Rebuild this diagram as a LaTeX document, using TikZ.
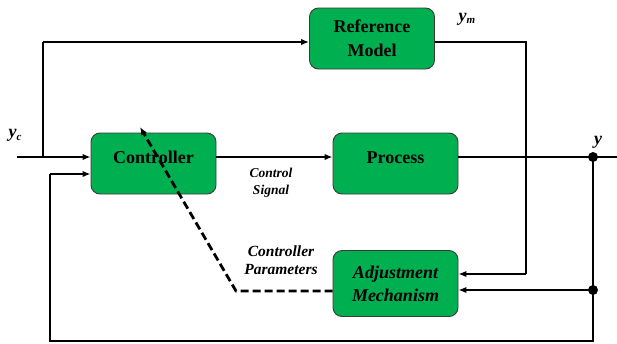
\documentclass[tikz,border=0pt]{standalone}
\usepackage{fontspec}
\setmainfont{Liberation Serif}
\usetikzlibrary{arrows.meta}
\definecolor{boxgreen}{HTML}{00B050}
\definecolor{boxline}{HTML}{3A3A3A}
\begin{document}
\begin{tikzpicture}[x=1pt,y=-1pt,
  blk/.style={draw=boxline, line width=0.9pt, fill=boxgreen, rounded corners=9pt,
    minimum width=125pt, minimum height=61pt, align=center, inner sep=0pt,
    font=\fontsize{18}{24}\selectfont\bfseries},
  raised/.style={text height=12pt, text depth=12pt},
  wire/.style={line width=2.6pt, draw=black},
  arr/.style={wire, -{Latex[length=8pt,width=6.5pt]}},
  dasharr/.style={arr, line width=2.8pt, dash pattern=on 8pt off 4pt},
  jdot/.style={circle, fill=black, inner sep=0pt, minimum size=10pt},
  sym/.style={inner sep=0pt, font=\fontsize{18}{20}\selectfont\bfseries\itshape},
  note/.style={inner sep=0pt, align=center, font=\fontsize{13.5}{17}\selectfont\bfseries\itshape},
  note2/.style={inner sep=0pt, align=center, font=\fontsize{15.5}{18}\selectfont\bfseries\itshape}
]
\useasboundingbox (0,0) rectangle (617,343);

% blocks
\node[blk] (ref) at (372,38.5) {Reference\\Model};
\node[blk, raised] (ctrl) at (153.5,163.5) {Controller};
\node[blk, raised] (proc) at (395.5,163.5) {Process};
\node[blk, minimum height=66pt, font=\fontsize{18}{23}\selectfont\bfseries\itshape] (adj) at (395.5,283.5) {Adjustment\\Mechanism};

% junctions and free ends
\coordinate (in) at (17,157);
\coordinate (br) at (43,157);
\coordinate (brtop) at (43,42);
\coordinate (out) at (617,157);
\node[jdot] (ydot) at (593,157) {};
\node[jdot] (adot) at (593,290) {};
\coordinate (fbcorner) at (593,341);
\coordinate (fbleft) at (50,341);
\coordinate (fbup) at (50,174);
\coordinate (ymcorner) at (526,42);
\coordinate (ymdown) at (526,274);
\coordinate (dbend) at (236,291);
\coordinate (dtip) at (140,127);

% connectors
\draw[arr] (in) -- (ctrl.west |- in);
\draw[wire] (br) -- (brtop);
\draw[arr] (brtop) -- (ref.west |- brtop);
\draw[arr] (ctrl.east |- in) -- (proc.west |- in);
\draw[wire] (proc.east |- in) -- (out);
\draw[wire] (ref.east |- brtop) -- (ymcorner) -- (ymdown);
\draw[arr] (ymdown) -- (adj.east |- ymdown);
\draw[wire] (ydot.center) -- (fbcorner) -- (fbleft) -- (fbup);
\draw[arr] (fbup) -- (ctrl.west |- fbup);
\draw[arr] (adot.center) -- (adj.east |- adot);
\draw[dasharr] (adj.west |- dbend) -- (dbend) -- (dtip);

% labels
\node[sym] (yc) at (15,135) {y\raisebox{-3pt}{\fontsize{11}{11}\selectfont c}};
\node[sym] (ym) at (467,19) {y\raisebox{-2pt}{\fontsize{11}{11}\selectfont m}};
\node[sym] (yl) at (598,142) {y};
\node[note] (cs) at (271,182.5) {Control\\Signal};
\node[note2] (cp) at (281,260.5) {Controller\\Parameters};
\end{tikzpicture}
\end{document}
